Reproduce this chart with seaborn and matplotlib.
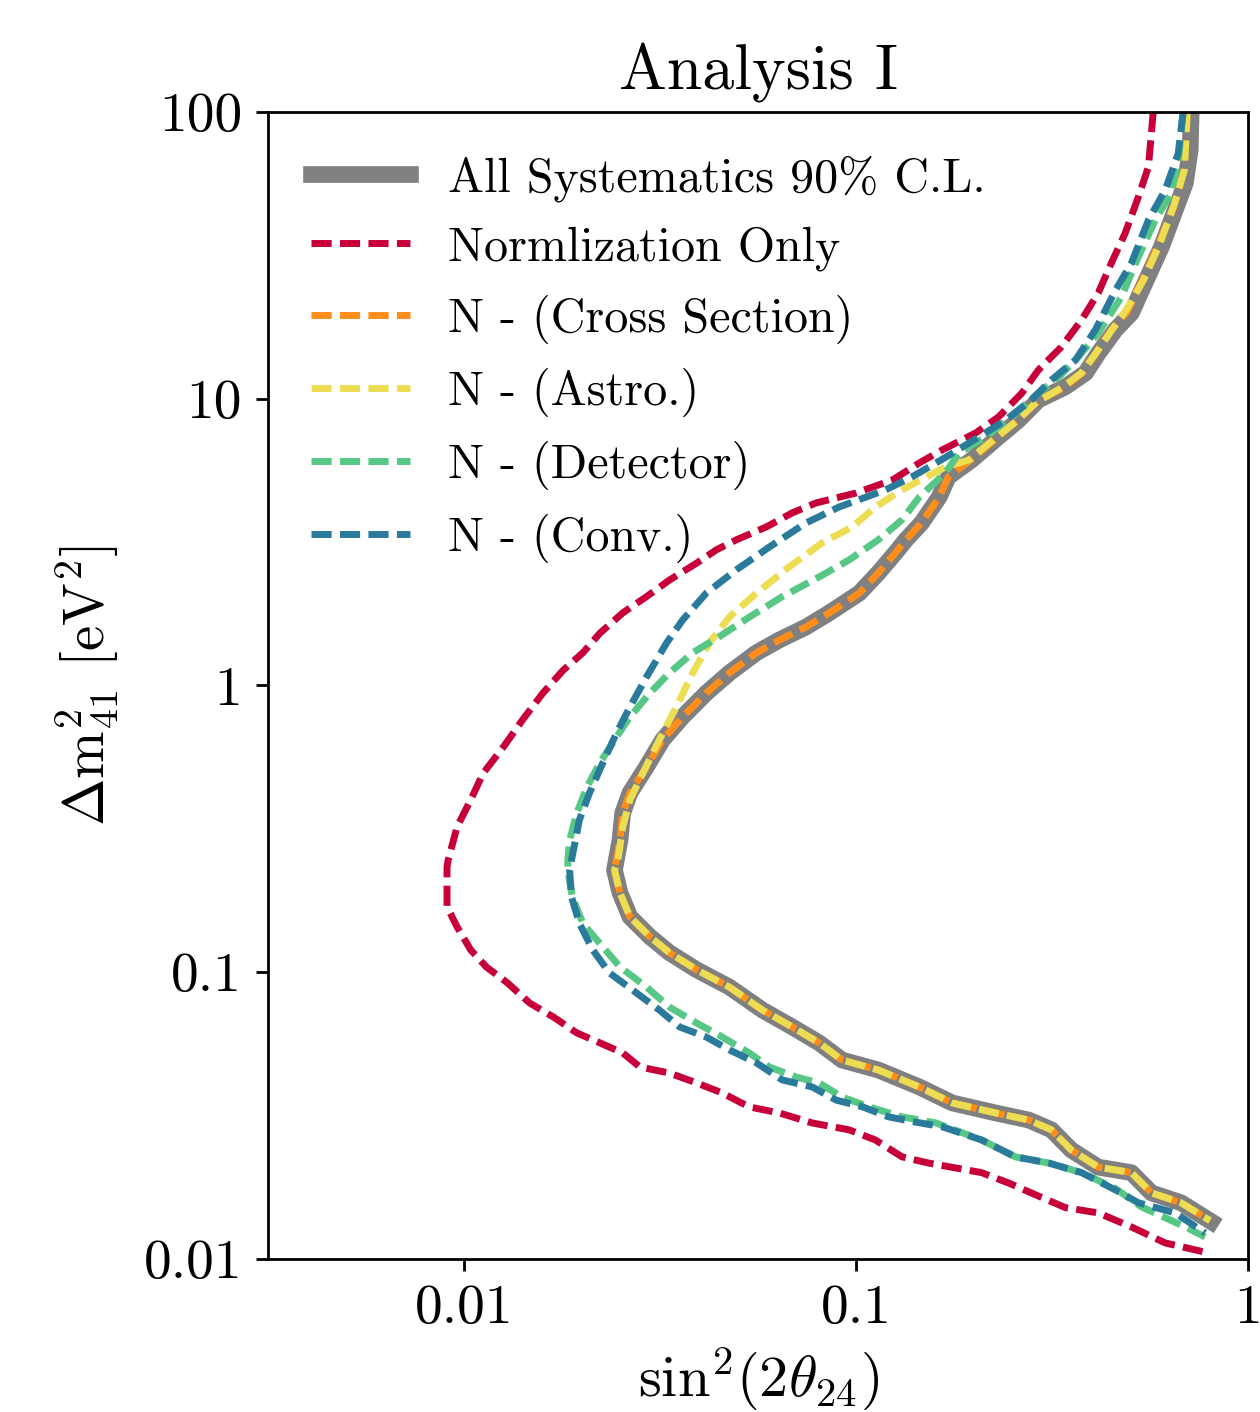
import matplotlib
matplotlib.use("Agg")
import matplotlib.pyplot as plt
from matplotlib.ticker import NullLocator
import seaborn as sns

# ---------------- data ----------------
title = "Analysis I"
legend_labels = ["All Systematics 90% C.L.", "Normlization Only", "N - (Cross Section)",
                 "N - (Astro.)", "N - (Detector)", "N - (Conv.)"]
x_ticks = [0.01, 0.1, 1]
x_tick_labels = ["0.01", "0.1", "1"]
y_ticks = [0.01, 0.1, 1, 10, 100]
y_tick_labels = ["0.01", "0.1", "1", "10", "100"]

all_sys_x = [0.716, 0.712, 0.692, 0.652, 0.601, 0.550, 0.504, 0.459, 0.415, 0.385, 0.342, 0.292,
             0.260, 0.231, 0.197, 0.172, 0.163, 0.147, 0.134, 0.126, 0.114, 0.102, 0.0854, 0.0746,
             0.0637, 0.0557, 0.0475, 0.0415, 0.0361, 0.0321, 0.0292, 0.0265, 0.0254, 0.0250, 0.0242,
             0.0250, 0.0265, 0.0298, 0.0334, 0.0392, 0.0475, 0.0577, 0.0688, 0.0805, 0.0921, 0.114,
             0.145, 0.176, 0.227, 0.276, 0.315, 0.354, 0.415, 0.504, 0.567, 0.675, 0.805]
all_sys_y = [100, 73.7, 56.5, 45.5, 33.8, 25.9, 19.9, 17.4, 14.4, 12.3, 11.0, 9.90,
             8.43, 7.36, 6.11, 5.34, 4.54, 3.69, 3.22, 2.90, 2.47, 2.10, 1.79, 1.60,
             1.44, 1.30, 1.105, 0.941, 0.777, 0.646, 0.520, 0.422, 0.359, 0.289, 0.227,
             0.189, 0.156, 0.133, 0.117, 0.102, 0.0888, 0.0738, 0.0644, 0.0567, 0.0494, 0.0456,
             0.0398, 0.0350, 0.0323, 0.0305, 0.0282, 0.0240, 0.0209, 0.0200, 0.0170, 0.0157, 0.0135]

norm_x = [0.573, 0.557, 0.525, 0.486, 0.448, 0.415, 0.376, 0.334, 0.292, 0.265, 0.231, 0.202,
          0.166, 0.145, 0.124, 0.100, 0.0791, 0.0688, 0.0590, 0.0495, 0.0440, 0.0392, 0.0334,
          0.0292, 0.0254, 0.0222, 0.0201, 0.0179, 0.0159, 0.0141, 0.0126, 0.0112, 0.0104, 0.0096,
          0.00911, 0.00905, 0.00905, 0.0096, 0.0104, 0.0114, 0.0129, 0.0147, 0.0169, 0.0194,
          0.0222, 0.0254, 0.0281, 0.0334, 0.0392, 0.0456, 0.0534, 0.0637, 0.0773, 0.0960, 0.112,
          0.131, 0.153, 0.209, 0.245, 0.297, 0.342, 0.415, 0.504, 0.615, 0.791]
norm_y = [100, 64.3, 50.5, 37.8, 29.7, 23.4, 18.8, 15.15, 12.6, 10.47, 8.64, 7.60,
          6.63, 5.97, 5.21, 4.69, 4.33, 4.00, 3.57, 3.22, 2.97, 2.67, 2.33,
          2.04, 1.79, 1.52, 1.30, 1.13, 0.941, 0.758, 0.610, 0.495, 0.399, 0.321,
          0.246, 0.233, 0.169, 0.144, 0.1196, 0.1043, 0.0918, 0.0781, 0.0698, 0.0614,
          0.0567, 0.0523, 0.0467, 0.0445, 0.0411, 0.0379, 0.0339, 0.0323, 0.0298, 0.0282, 0.0260,
          0.0227, 0.0216, 0.0200, 0.0184, 0.0164, 0.0151, 0.01447, 0.01293, 0.01137, 0.0105]

xsec_x = [0.696, 0.688, 0.645, 0.590, 0.537, 0.492, 0.448, 0.408, 0.378, 0.338, 0.291, 0.257,
          0.229, 0.196, 0.172, 0.163, 0.147, 0.134, 0.126, 0.114, 0.102, 0.0854, 0.0746,
          0.0637, 0.0557, 0.0475, 0.0415, 0.0361, 0.0321, 0.0292, 0.0265, 0.0254, 0.0250, 0.0242,
          0.0250, 0.0265, 0.0298, 0.0334, 0.0392, 0.0475, 0.0577, 0.0688, 0.0805, 0.0921, 0.114,
          0.145, 0.176, 0.227, 0.276, 0.315, 0.354, 0.415, 0.504, 0.567, 0.675, 0.800]
xsec_y = [100, 62.8, 46.3, 34.4, 25.9, 20.1, 17.4, 14.3, 12.3, 10.9, 9.82, 8.36,
          7.30, 6.11, 5.34, 4.54, 3.69, 3.22, 2.90, 2.47, 2.10, 1.79, 1.60,
          1.44, 1.30, 1.105, 0.941, 0.777, 0.646, 0.520, 0.422, 0.359, 0.289, 0.227,
          0.189, 0.156, 0.133, 0.117, 0.102, 0.0888, 0.0738, 0.0644, 0.0567, 0.0494, 0.0456,
          0.0398, 0.0350, 0.0323, 0.0305, 0.0282, 0.0240, 0.0209, 0.0200, 0.0170, 0.0157, 0.0136]

astro_x = [0.700, 0.688, 0.648, 0.594, 0.541, 0.489, 0.446, 0.406, 0.376, 0.334, 0.289, 0.255,
           0.227, 0.194, 0.169, 0.131, 0.112, 0.0977, 0.0819, 0.0675, 0.0557, 0.0475, 0.0423,
           0.0383, 0.0348, 0.0315, 0.0286, 0.0265, 0.0254, 0.0247, 0.0242,
           0.0250, 0.0265, 0.0298, 0.0334, 0.0392, 0.0475, 0.0577, 0.0688, 0.0805, 0.0921, 0.114,
           0.145, 0.176, 0.227, 0.276, 0.315, 0.354, 0.415, 0.504, 0.567, 0.675, 0.800]
astro_y = [100, 62.8, 47.4, 34.4, 25.9, 20.4, 17.1, 14.2, 12.3, 10.9, 9.74, 8.30,
           7.30, 6.11, 5.78, 4.81, 4.19, 3.57, 3.14, 2.59, 2.10, 1.73, 1.41,
           1.105, 0.841, 0.646, 0.495, 0.399, 0.321, 0.246, 0.227,
           0.189, 0.156, 0.133, 0.117, 0.102, 0.0888, 0.0738, 0.0644, 0.0567, 0.0494, 0.0456,
           0.0398, 0.0350, 0.0323, 0.0305, 0.0282, 0.0240, 0.0209, 0.0200, 0.0170, 0.0157, 0.0136]

det_x = [0.683, 0.664, 0.637, 0.580, 0.525, 0.475, 0.415, 0.369, 0.329, 0.292, 0.249, 0.214,
         0.183, 0.169, 0.145, 0.131, 0.114, 0.0960, 0.0805, 0.0648, 0.0534, 0.0448, 0.0383,
         0.0334, 0.0298, 0.0265, 0.0245, 0.0222, 0.0206, 0.0194, 0.0186, 0.0184, 0.0184, 0.0189,
         0.0201, 0.0222, 0.0250, 0.0292, 0.0334, 0.0392, 0.0456, 0.0534, 0.0601, 0.0704, 0.0805,
         0.0921, 0.108, 0.131, 0.160, 0.209, 0.255, 0.310, 0.376, 0.459, 0.534, 0.692, 0.777]
det_y = [100, 68.0, 52.2, 42.0, 31.2, 22.6, 16.96, 13.98, 11.9, 10.47, 8.64, 7.36,
         6.47, 5.51, 4.54, 3.78, 3.22, 2.74, 2.39, 2.04, 1.73, 1.48, 1.30,
         1.105, 0.941, 0.777, 0.661, 0.537, 0.443, 0.359, 0.289, 0.246, 0.227, 0.183,
         0.148, 0.126, 0.1043, 0.0888, 0.0756, 0.0665, 0.0594, 0.0523, 0.0467, 0.0431, 0.0411,
         0.0367, 0.0339, 0.0313, 0.0298, 0.0260, 0.0227, 0.0216, 0.0200, 0.0176, 0.0152, 0.01293, 0.01193]

conv_x = [0.683, 0.664, 0.615, 0.557, 0.504, 0.459, 0.408, 0.363, 0.315, 0.280, 0.241, 0.206,
          0.170, 0.139, 0.119, 0.0905, 0.0746, 0.0601, 0.0495, 0.0415, 0.0361, 0.0329, 0.0292,
          0.0265, 0.0245, 0.0226, 0.0209, 0.0197, 0.0188, 0.0186, 0.0188, 0.0197, 0.0213, 0.0235,
          0.0269, 0.0315, 0.0355, 0.0415, 0.0475, 0.0557, 0.0648, 0.0773, 0.0890, 0.104, 0.121,
          0.142, 0.166, 0.209, 0.255, 0.310, 0.376, 0.459, 0.525, 0.652, 0.777]
conv_y = [100, 71.9, 53.5, 42.0, 29.7, 23.9, 17.4, 13.65, 11.62, 9.90, 8.43, 7.36,
          6.27, 5.34, 4.81, 4.19, 3.69, 3.04, 2.53, 2.10, 1.69, 1.41, 1.07,
          0.841, 0.683, 0.537, 0.422, 0.340, 0.246, 0.227, 0.183, 0.148, 0.1196, 0.0994,
          0.0867, 0.0738, 0.0644, 0.0594, 0.0536, 0.0483, 0.0421, 0.0398, 0.0358, 0.0339, 0.0313,
          0.0300, 0.0289, 0.0260, 0.0227, 0.0216, 0.0200, 0.0174, 0.0157, 0.01447, 0.01232]

# ---------------- styling ----------------
sns.set_theme(style="ticks")
plt.rcParams.update({
    "font.family": "serif",
    "font.serif": ["cmr10"],
    "mathtext.fontset": "cm",
    "axes.unicode_minus": False,
    "axes.formatter.use_mathtext": True,
    "text.color": "black",
    "axes.labelcolor": "black",
    "axes.linewidth": 1.0,
    "axes.edgecolor": "black",
    "xtick.color": "black",
    "ytick.color": "black",
    "xtick.labelcolor": "black",
    "ytick.labelcolor": "black",
    "xtick.major.size": 4.3,
    "ytick.major.size": 4.3,
    "xtick.major.width": 1.0,
    "ytick.major.width": 1.0,
    "xtick.major.pad": 5,
    "ytick.major.pad": 5,
})

fig = plt.figure(figsize=(6.3, 7.06), dpi=200)
ax = fig.add_axes([0.2127, 0.1084, 0.7778, 0.8123])

dash = (0, (2.9, 1.2))
series = [
    (all_sys_x, all_sys_y, "#808080", "-", 6.0),
    (norm_x, norm_y, "#c70039", dash, 2.5),
    (xsec_x, xsec_y, "#ff8d1a", dash, 2.5),
    (astro_x, astro_y, "#eddd53", dash, 2.5),
    (det_x, det_y, "#57c785", dash, 2.5),
    (conv_x, conv_y, "#2a7b9b", dash, 2.5),
]
for (xs, ys, col, ls, lw), lab in zip(series, legend_labels):
    sns.lineplot(x=xs, y=ys, sort=False, estimator=None, color=col, linestyle=ls,
                 linewidth=lw, label=lab, ax=ax, solid_capstyle="projecting",
                 solid_joinstyle="round", dash_capstyle="butt")

ax.set_xscale("log")
ax.set_yscale("log")
ax.set_xlim(10 ** -2.5, 1)
ax.set_ylim(0.01, 100)
ax.set_xticks(x_ticks, labels=x_tick_labels)
ax.set_yticks(y_ticks, labels=y_tick_labels)
ax.xaxis.set_minor_locator(NullLocator())
ax.yaxis.set_minor_locator(NullLocator())
ax.tick_params(axis="both", which="major", labelsize=20, direction="out",
               colors="black", labelcolor="black")
for s in ax.spines.values():
    s.set_visible(True)
    s.set_linewidth(1.0)
    s.set_color("black")

ax.set_xlabel(r"$\mathrm{sin}^2(2\theta_{24})$", fontsize=21, labelpad=4, color="black")
ax.set_ylabel(r"$\Delta \mathrm{m}^2_{41}$ [eV$^2$]", fontsize=20.5, labelpad=8, color="black")
ax.set_title(title, fontsize=23, pad=8, color="black")

leg = ax.legend(loc="upper left", frameon=False, fontsize=17.3, handlelength=2.05)
for t in leg.get_texts():
    t.set_color("black")

fig.savefig("out.png", dpi=200)
